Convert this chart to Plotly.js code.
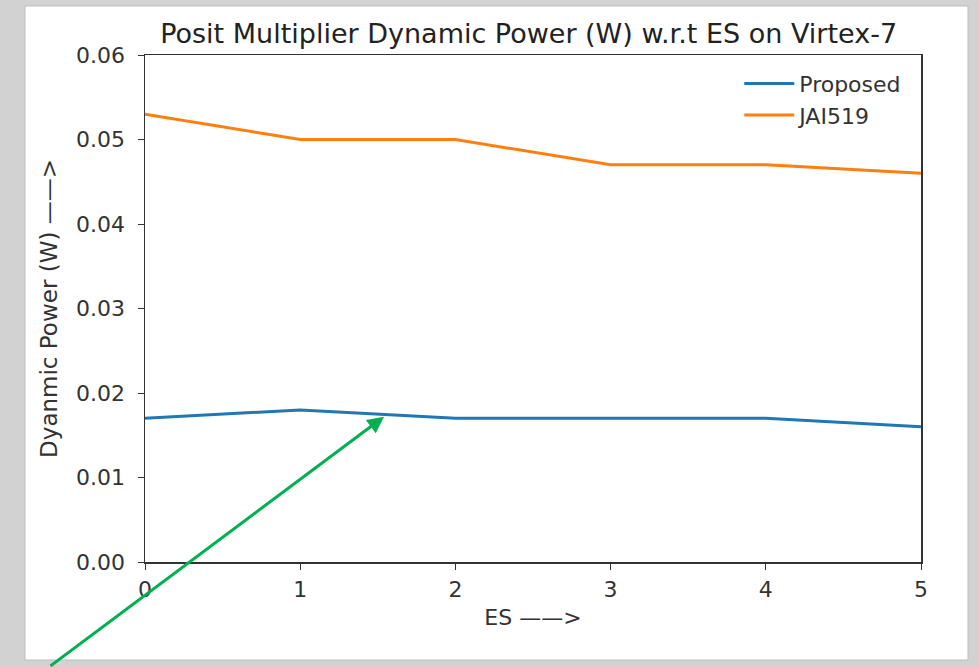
<!DOCTYPE html>
<html>
<head>
<meta charset="utf-8">
<script src="https://cdn.plot.ly/plotly-3.0.1.min.js"></script>
<style>html,body{margin:0;padding:0;background:#cfcfcf;}#chart{width:979px;height:667px;}</style>
</head>
<body>
<div id="chart"></div>
<script>
const es = [0, 1, 2, 3, 4, 5];
const proposed = [0.017, 0.018, 0.017, 0.017, 0.017, 0.016];
const jai519 = [0.053, 0.050, 0.050, 0.047, 0.047, 0.046];
const seriesNames = ["Proposed", "JAI519"];
const titleText = "Posit Multiplier Dynamic Power (W) w.r.t ES on Virtex-7";
const xTitle = "ES ——>";
const yTitle = "Dyanmic Power (W) ——>";

const font = "DejaVu Sans, sans-serif";
const traces = [
  {x: es, y: proposed, name: seriesNames[0], mode: "lines", line: {color: "#1f77b4", width: 3}},
  {x: es, y: jai519, name: seriesNames[1], mode: "lines", line: {color: "#ff7f0e", width: 3}}
];
const layout = {
  width: 979, height: 667,
  margin: {l: 145, r: 58, t: 55, b: 105},
  paper_bgcolor: "#d2d2d2",
  plot_bgcolor: "#ffffff",
  font: {family: font, color: "#333", size: 20},
  title: {text: titleText, font: {family: font, size: 27, color: "#222"}, x: 0.54, xanchor: "center", y: 0.95, yanchor: "middle"},
  showlegend: true,
  legend: {x: 0.981, y: 0.985, xanchor: "right", yanchor: "top", bgcolor: "rgba(255,255,255,0)", font: {size: 22, color: "#333"}, tracegroupgap: 0, itemwidth: 50},
  xaxis: {
    range: [0, 5], dtick: 1, tick0: 0, showgrid: false, zeroline: false,
    showline: true, linecolor: "#333", linewidth: 1.5, mirror: true,
    ticks: "outside", ticklen: 6, tickcolor: "#333", ticklabelstandoff: 1,
    tickfont: {size: 22, color: "#333"},
    title: {text: xTitle, font: {size: 22, color: "#333"}, standoff: 8}
  },
  yaxis: {
    range: [0, 0.06], dtick: 0.01, tick0: 0, tickformat: ".2f", showgrid: false, zeroline: false,
    showline: true, linecolor: "#333", linewidth: 1.5, mirror: true,
    ticks: "outside", ticklen: 6, tickcolor: "#333", ticklabelstandoff: 8,
    tickfont: {size: 22, color: "#333"},
    title: {text: yTitle, font: {size: 23, color: "#333"}, standoff: 12}
  },
  shapes: [
    {type: "rect", xref: "paper", yref: "paper", layer: "below",
     x0: -120/776, x1: 1 + 47/776, y0: -98/507, y1: 1 + 49/507,
     fillcolor: "#ffffff", line: {color: "#bdbdbd", width: 1}}
  ],
  annotations: [
    {x: 1.54, y: 0.0172, xref: "x", yref: "y", ax: -335, ay: 252, axref: "pixel", ayref: "pixel",
     showarrow: true, arrowhead: 2, arrowsize: 1.1, arrowwidth: 3, arrowcolor: "#00b050", text: ""}
  ]
};
Plotly.newPlot("chart", traces, layout, {displayModeBar: false, staticPlot: true});
</script>
</body>
</html>
